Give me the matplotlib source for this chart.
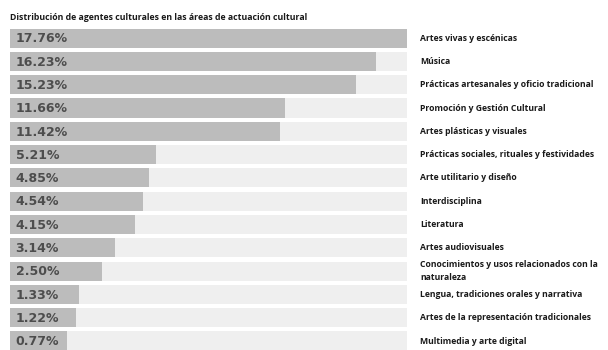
import numpy as np
import matplotlib
matplotlib.use("Agg")
import matplotlib.pyplot as plt

# datos
areas = ["Artes vivas y escénicas", "Música",
         "Prácticas artesanales y oficio tradicional",
         "Promoción y Gestión Cultural", "Artes plásticas y visuales",
         "Prácticas sociales, rituales y festividades",
         "Arte utilitario y diseño", "Interdisciplina", "Literatura",
         "Artes audiovisuales",
         "Conocimientos y usos relacionados con la\nnaturaleza",
         "Lengua, tradiciones orales y narrativa",
         "Artes de la representación tradicionales",
         "Multimedia y arte digital"]
porcentajes = [17.76, 16.23, 15.23, 11.66, 11.42, 5.21, 4.85, 4.54,
               4.15, 3.14, 2.50, 1.33, 1.22, 0.77]
titulo = "Distribución de agentes culturales en las áreas de actuación cultural"

valores = np.array(porcentajes)
pos = np.arange(len(valores))
base = 2.1  # tramo minimo para que quepa la etiqueta

fig = plt.figure(figsize=(6.08, 3.5), dpi=100)
ax = fig.add_axes([10/608, -0.0076, 397/608, 0.932])

# pista clara de fondo y barra gris
ax.barh(pos, valores.max() + base, left=-base, height=0.82, color="#efefef")
ax.barh(pos, valores + base, left=-base, height=0.82, color="#bcbcbc")

for i, v in enumerate(valores):
    ax.annotate(f"{v:.2f}%", (-base, i), xytext=(4, -0.5),
                textcoords="offset points", va="center", ha="left",
                fontsize=9, fontweight="bold", color="#4d4d4d",
                family="DejaVu Sans")
    ax.text(1.033, i, areas[i], transform=ax.get_yaxis_transform(),
            va="center", ha="left", fontsize=6.2, fontweight="bold",
            color="#1a1a1a", family="Open Sans", linespacing=1.5)

ax.set_xlim(-base, valores.max())
ax.set_ylim(len(valores) - 0.5, -0.5)
ax.axis("off")

fig.text(10/608, 1 - 17/350, titulo, fontsize=6.3, fontweight="bold",
         color="#1a1a1a", family="Open Sans", va="center", ha="left")

fig.savefig("out.png", dpi=100)
